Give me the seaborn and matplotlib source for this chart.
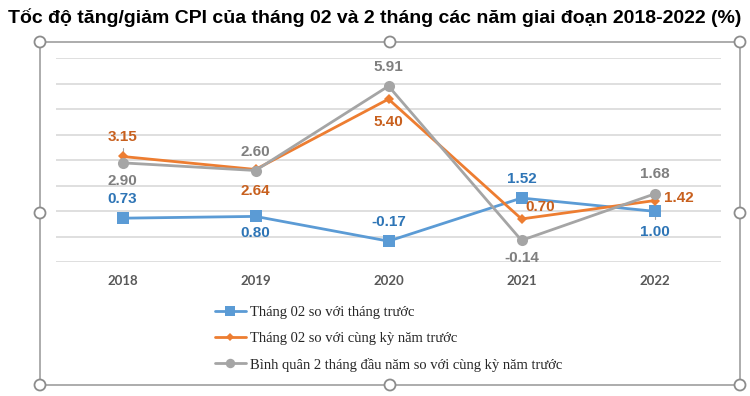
import matplotlib
matplotlib.use("Agg")
import matplotlib.pyplot as plt
from matplotlib.patches import Circle
from matplotlib.lines import Line2D
import seaborn as sns
import pandas as pd

years = ["2018", "2019", "2020", "2021", "2022"]
s_names = ["Tháng 02 so với tháng trước",
           "Tháng 02 so với cùng kỳ năm trước",
           "Bình quân 2 tháng đầu năm so với cùng kỳ năm trước"]
v_blue = [0.73, 0.80, -0.17, 1.52, 1.00]
v_orange = [3.15, 2.64, 5.40, 0.70, 1.42]
v_grey = [2.90, 2.60, 5.91, -0.14, 1.68]

title = "Tốc độ tăng/giảm CPI của tháng 02 và 2 tháng các năm giai đoạn 2018-2022 (%)"

line_colors = ["#5B9BD5", "#ED7D31", "#A5A5A5"]
label_colors = ["#2E75B6", "#C8601E", "#7F7F7F"]
markers = ["s", "D", "o"]
msizes = [8, 5.5, 8]

# label offsets in pixels (dx, dy)
offs = [
    [(0, 19), (0, -17), (0, 19), (0, 19), (0, -21)],
    [(0, 19), (0, -22), (0, -23), (19, 12), (24, 3)],
    [(0, -18), (0, 19), (0, 19), (0, -18), (0, 20)],
]

rows = []
for name, vals in zip(s_names, [v_blue, v_orange, v_grey]):
    for i, v in enumerate(vals):
        rows.append({"x": i, "year": years[i], "value": v, "series": name})
df = pd.DataFrame(rows)

sns.set_theme(style="white")
fig = plt.figure(figsize=(7.5, 3.96), dpi=100)
ax = fig.add_axes([56 / 750, 1 - 262.3 / 396, (721 - 56) / 750, (262.3 - 58.3) / 396])

for k, name in enumerate(s_names):
    sub = df[df["series"] == name]
    sns.lineplot(data=sub, x="x", y="value", ax=ax, color=line_colors[k],
                 marker=markers[k], markersize=msizes[k], markeredgewidth=0,
                 linewidth=2, sort=False, legend=False, zorder=3 + k)

ax.set_xlim(-0.5, 4.5)
ax.set_ylim(-1, 7)
ax.set_yticks(range(-1, 8))
ax.yaxis.grid(True, color="#D9D9D9", linewidth=1.2)
ax.set_yticklabels([])
ax.tick_params(axis="y", length=0)
ax.set_xticks(range(5))
ax.set_xticklabels(years, fontfamily=["Lato", "DejaVu Sans"], fontweight="bold",
                   fontsize=9.5, color="#595959")
ax.tick_params(axis="x", length=0, pad=9)
ax.set_xlabel("")
ax.set_ylabel("")
for sp in ax.spines.values():
    sp.set_visible(False)

for k, vals in enumerate([v_blue, v_orange, v_grey]):
    for i, v in enumerate(vals):
        dx, dy = offs[k][i]
        ax.annotate(f"{v:.2f}", (i, v), xytext=(dx * 0.72, dy * 0.72),
                    textcoords="offset points", ha="center", va="center",
                    fontsize=11, fontweight="bold", color=label_colors[k],
                    fontfamily=["Liberation Sans Narrow", "Liberation Sans", "DejaVu Sans"],
                    zorder=10)

# small leader lines
ax.plot([0, 0], [3.5, 3.17], color="#A5A5A5", linewidth=0.8, zorder=2)
ax.plot([4, 4], [0.97, 0.68], color="#A5A5A5", linewidth=0.8, zorder=2)

handles = [Line2D([0], [0], color=line_colors[k], marker=markers[k],
                  markersize=msizes[k] * (0.85 if k != 1 else 0.8), markeredgewidth=0,
                  linewidth=2) for k in range(3)]
fig.legend(handles, s_names, loc="upper left",
           bbox_to_anchor=(215 / 750, 1 - 306 / 396), frameon=False,
           prop={"family": ["Liberation Serif", "DejaVu Serif"], "size": 10.5},
           handlelength=2.1, handletextpad=0.3, labelspacing=0.86, borderpad=0,
           borderaxespad=0)

fig.text(375 / 750, 1 - 18 / 396, title, ha="center", va="center",
         fontsize=14, fontweight="bold", color="black",
         fontfamily=["Liberation Sans Narrow", "Liberation Sans", "DejaVu Sans"])

# selection frame with handles
fx0, fx1, fy0, fy1 = 40 / 750, 740 / 750, 1 - 385 / 396, 1 - 42 / 396
fr = dict(color="#A6A6A6", linewidth=1.3, transform=fig.transFigure, zorder=20)
fig.add_artist(Line2D([fx0, fx1], [fy1, fy1], **fr))
fig.add_artist(Line2D([fx0, fx1], [fy0, fy0], **fr))
fig.add_artist(Line2D([fx0, fx0], [fy0, fy1], **fr))
fig.add_artist(Line2D([fx1, fx1], [fy0, fy1], **fr))
for (hx, hy) in [(40, 42), (390, 42), (740, 42), (40, 213), (740, 213),
                 (40, 385), (390, 385), (740, 385)]:
    fig.add_artist(Circle((hx, 396 - hy), 5.5, transform=None, facecolor="white",
                          edgecolor="#8C8C8C", linewidth=1.3, zorder=21))

fig.savefig("out.png", dpi=100)
